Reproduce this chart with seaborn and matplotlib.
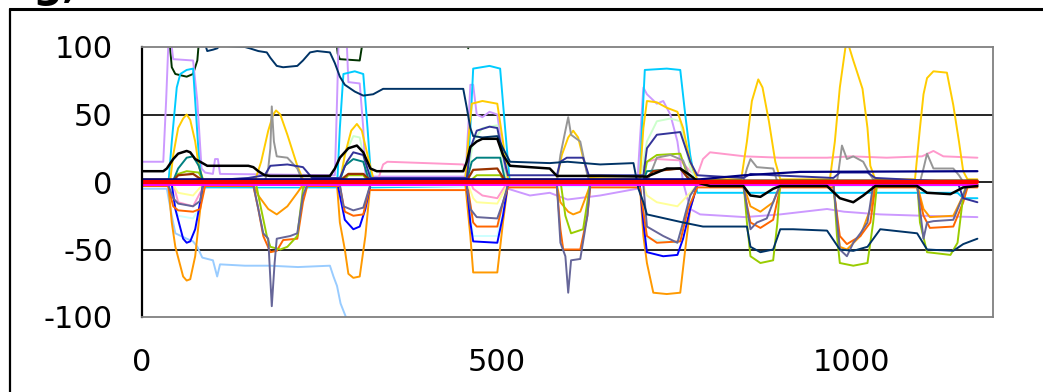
import matplotlib
matplotlib.use("Agg")
import matplotlib.pyplot as plt
from matplotlib.lines import Line2D
import pandas as pd
import seaborn as sns

# ---------------------------------------------------------------------------
# Data: each trace as (sample positions, values)
# ---------------------------------------------------------------------------
x_ticks = [0, 500, 1000]
y_ticks = [-100, -50, 0, 50, 100]

dkgreen_x = [0, 37, 42, 47, 63, 72, 78, 82, 272, 276, 279, 307, 310, 312, 455, 460, 463, 1178]
dkgreen_y = [115, 115, 85, 80, 78, 80, 90, 115, 115, 95, 91, 90, 100, 115, 115, 99, 115, 115]

dknavy_x = [0, 85, 89, 92, 100, 106, 110, 145, 152, 164, 176, 181, 190, 199, 219, 227, 237, 247, 265,
            272, 279, 286, 300, 312, 326, 340, 453, 458, 463, 467, 480, 501, 509, 519, 575, 600, 646,
            693, 700, 707, 712, 763, 791, 853, 858, 872, 890, 900, 918, 966, 984, 1003, 1023, 1041,
            1093, 1107, 1144, 1158, 1178]
dknavy_y = [115, 115, 102, 97, 98, 99, 101, 100, 99, 97, 96, 92, 86, 85, 86, 90, 96, 97, 96,
            88, 78, 72, 67, 64, 65, 69, 69, 55, 40, 34, 33, 34, 25, 15, 14, 15, 13,
            14, -5, -15, -24, -30, -33, -33, -48, -52, -50, -35, -35, -36, -50, -51, -48, -35,
            -38, -50, -51, -46, -42]

lavender_x = [0, 30, 34, 37, 42, 44, 72, 78, 84, 89, 100, 103, 107, 110, 272, 275, 277, 289, 291, 307,
              312, 315, 456, 460, 463, 467, 472, 480, 490, 501, 509, 516, 547, 575, 600, 646, 698, 702,
              707, 712, 726, 735, 745, 755, 763, 773, 787, 850, 900, 966, 990, 1041, 1100, 1178]
lavender_y = [15, 15, 60, 100, 100, 91, 90, 60, 10, 7, 6, 17, 17, 6, 5, 60, 100, 100, 74, 73,
              40, 4, 4, 40, 72, 72, 50, 48, 52, 50, 20, -5, -10, -8, -13, -10, -5, 30,
              70, 65, 58, 60, 50, 30, 0, -20, -24, -26, -24, -20, -22, -24, -25, -26]

sky_x = [0, 37, 42, 49, 54, 63, 72, 75, 80, 85, 275, 279, 284, 300, 312, 318, 324, 458, 463, 467, 490,
         505, 512, 519, 702, 705, 709, 740, 759, 766, 773, 783, 1150, 1158, 1178]
sky_y = [-3, -3, 30, 70, 80, 83, 84, 60, 20, -4, -4, 40, 80, 82, 80, 40, -4, -3, 40, 84, 86,
         84, 40, -3, -3, 40, 83, 84, 83, 50, 20, -8, -8, -12, -12]

gold_x = [0, 40, 44, 51, 58, 63, 68, 75, 80, 86, 160, 168, 178, 185, 189, 195, 205, 219, 227,
          280, 286, 295, 303, 310, 318, 326, 456, 460, 465, 480, 501, 509, 516, 585, 592, 601, 608,
          615, 622, 630, 702, 707, 712, 726, 740, 755, 763, 773, 783, 845, 853, 860, 869, 875, 884,
          893, 900, 970, 977, 984, 992, 996, 1003, 1008, 1016, 1023, 1027, 1034, 1090, 1097, 1102,
          1107, 1116, 1135, 1144, 1152, 1158, 1164, 1178]
gold_y = [2, 2, 20, 40, 47, 50, 46, 30, 12, 2, 2, 15, 38, 50, 53, 50, 35, 12, 2,
          2, 20, 38, 43, 38, 20, 3, 2, 30, 58, 60, 58, 30, 2, 2, 20, 33, 38,
          33, 18, 3, 2, 40, 60, 59, 55, 52, 40, 15, 2, 2, 30, 60, 76, 70, 45,
          15, 2, 2, 30, 70, 100, 102, 90, 82, 69, 40, 12, 2, 2, 40, 65,
          77, 82, 81, 57, 30, 8, 2, 2]

orange_x = [0, 37, 42, 47, 58, 63, 68, 75, 80, 86, 157, 164, 178, 190, 205, 219, 227, 275, 279, 286,
            291, 298, 307, 315, 322, 456, 463, 467, 501, 509, 516, 585, 590, 601, 608, 618, 628, 632,
            702, 707, 712, 721, 740, 759, 766, 773, 783, 848, 858, 872, 890, 900, 975, 984, 994, 1013,
            1027, 1034, 1093, 1102, 1111, 1144, 1158, 1164, 1178]
orange_y = [-2, -2, -30, -48, -70, -73, -72, -55, -30, -2, -2, -10, -20, -24, -18, -8, -2, -2, -30, -50,
            -68, -71, -70, -40, -2, -2, -40, -67, -67, -30, -2, -2, -15, -22, -24, -22, -8, -2,
            -2, -40, -60, -82, -83, -82, -50, -20, -2, -2, -18, -22, -15, -2, -2, -48, -50, -40,
            -20, -2, -2, -20, -26, -25, -10, -2, -2]

orangered_x = [0, 37, 44, 51, 72, 82, 89, 157, 164, 171, 181, 190, 199, 219, 227, 233, 279, 286, 298,
               312, 320, 331, 453, 460, 467, 472, 501, 509, 516, 585, 590, 594, 618, 628, 632, 702, 712,
               726, 759, 770, 783, 848, 858, 872, 890, 900, 975, 984, 994, 1013, 1027, 1034, 1093,
               1102, 1111, 1144, 1158, 1164, 1178]
orangered_y = [-3, -3, -18, -21, -22, -20, -3, -3, -20, -40, -52, -51, -43, -42, -15, -3, -3, -22, -25,
               -24, -6, -6, -6, -6, -30, -33, -33, -15, -4, -4, -35, -50, -50, -25, -4, -4, -40,
               -45, -44, -20, -4, -4, -30, -34, -28, -4, -4, -40, -46, -40, -30, -4, -4,
               -25, -34, -33, -15, -4, -4]

blue_x = [0, 42, 47, 51, 58, 63, 68, 75, 82, 86, 276, 279, 286, 298, 307, 315, 322, 458, 463, 467,
          501, 509, 516, 702, 707, 712, 735, 755, 763, 773, 783, 1178]
blue_y = [-2, -2, -20, -28, -42, -45, -44, -35, -15, -2, -2, -10, -28, -35, -33, -20, -2, -2, -30, -44,
          -45, -25, -2, -2, -30, -52, -55, -54, -42, -20, -2, -2]

bluegray_x = [0, 37, 44, 51, 72, 82, 86, 157, 164, 171, 178, 183, 187, 190, 209, 219, 227, 233, 279,
              284, 298, 312, 322, 458, 463, 472, 501, 509, 516, 585, 590, 597, 601, 605, 618, 628, 632,
              707, 712, 735, 755, 763, 773, 783, 848, 858, 867, 881, 890, 900, 975, 984, 994, 1003,
              1013, 1023, 1031, 1093, 1097, 1102, 1107, 1116, 1144, 1158, 1164, 1178]
bluegray_y = [-2, -2, -12, -16, -18, -14, -2, -2, -20, -38, -42, -92, -60, -42, -40, -38, -10, -2, -2,
              -18, -21, -19, -2, -2, -20, -26, -27, -15, -2, -2, -45, -55, -82, -58, -57, -25, -2,
              -2, -33, -40, -45, -30, -10, -2, -2, -35, -30, -27, -15, -2, -2, -50, -55, -45,
              -38, -30, -2, -2, -20, -42, -30, -29, -28, -10, -2, -2]

lime_x = [0, 44, 51, 63, 80, 86, 160, 166, 176, 181, 195, 205, 219, 227, 233, 284, 291, 312, 318, 463,
          472, 505, 512, 590, 597, 605, 622, 628, 632, 707, 712, 726, 759, 766, 775, 848, 853, 858,
          872, 890, 896, 900, 975, 980, 984, 1003, 1023, 1031, 1037, 1093, 1097, 1107, 1140, 1150,
          1158, 1164, 1178]
lime_y = [1, 1, 6, 8, 7, 1, 1, -15, -40, -48, -50, -48, -40, -5, 1, 1, 5, 5, 1, 1,
          5, 5, 1, 1, -25, -38, -35, -15, 1, 1, 15, 20, 21, 10, 1, 1, -30, -55,
          -60, -58, -30, 1, 1, -40, -60, -62, -60, -30, 1, 1, -30, -52, -54, -45,
          -10, 1, 1]

gray_x = [0, 173, 178, 181, 183, 186, 190, 205, 219, 227, 585, 590, 597, 601, 605, 618, 628, 632, 712,
          720, 726, 745, 763, 775, 848, 853, 858, 867, 890, 896, 980, 984, 987, 994, 1003, 1017, 1027,
          1034, 1097, 1102, 1107, 1116, 1144, 1152, 1158, 1178]
gray_y = [0, 0, 10, 25, 56, 30, 19, 18, 10, 0, 0, 20, 38, 48, 35, 30, 5, 0, 0,
          10, 18, 20, 16, 0, 0, 10, 17, 11, 10, 0, 0, 15, 27, 17, 19, 15, 5,
          0, 0, 10, 21, 10, 10, 5, 0, 0]

rose_x = [0, 44, 51, 72, 82, 89, 331, 340, 346, 400, 453, 460, 467, 480, 501, 512, 522, 698, 705, 712,
          726, 759, 773, 783, 791, 801, 850, 900, 966, 1000, 1050, 1100, 1116, 1130, 1178]
rose_y = [-1, -1, -15, -18, -8, -1, -1, 13, 15, 14, 13, 5, -5, -10, -12, -3, -1, -1, 10, 15,
          17, 16, 8, 5, 17, 22, 19, 18, 18, 19, 18, 19, 23, 19, 18]

black_x = [0, 30, 35, 44, 51, 63, 68, 75, 82, 92, 150, 157, 164, 173, 181, 265, 272, 279, 291, 303, 312,
           322, 331, 453, 458, 463, 472, 480, 501, 509, 519, 547, 575, 585, 646, 712, 726, 740, 759,
           773, 787, 801, 848, 858, 872, 890, 900, 966, 984, 1003, 1017, 1034, 1093, 1107, 1140, 1158,
           1178]
black_y = [8, 8, 10, 17, 21, 23, 22, 17, 15, 12, 12, 11, 8, 5, 4.5, 4.5, 10, 18, 25, 27, 22,
           10, 8, 8, 15, 26, 30, 32, 32, 20, 12, 11, 10, 4.5, 4.5, 4, 7, 10, 10,
           5, -1, -3, -3, -10, -11, -5, -3, -3, -12, -15, -10, -3, -3, -8, -9, -4,
           -3]

indigo_x = [0, 85, 120, 150, 173, 181, 205, 227, 240, 279, 289, 298, 312, 322, 458, 463, 472, 490, 501,
            509, 516, 585, 590, 599, 622, 630, 707, 712, 726, 759, 773, 783, 848, 858, 890, 975, 984,
            1023, 1034, 1150, 1158, 1178]
indigo_y = [1, 1, 2, 3, 5, 12, 13, 11, 3, 3, 15, 22, 20, 3, 3, 25, 38, 41, 40,
            20, 5, 5, 15, 18, 18, 5, 5, 25, 35, 37, 15, 5, 3, 6, 5, 3, 7,
            7, 3, 0, -12, -15]

teal_x = [0, 44, 51, 63, 72, 80, 86, 279, 286, 298, 312, 320, 458, 465, 472, 505, 512, 707, 712, 759,
          773, 1178]
teal_y = [1, 1, 10, 18, 19, 12, 1, 1, 12, 17, 15, 1, 1, 15, 18, 18, 1, 1, 8, 10,
          1, 1]

ltgreen_x = [0, 279, 286, 298, 307, 318, 322, 458, 467, 480, 501, 509, 516, 702, 712, 726, 745, 759, 773,
             783, 1178]
ltgreen_y = [1, 1, 20, 34, 33, 5, 1, 1, 30, 40, 42, 10, 1, 1, 30, 45, 47, 45, 10,
             1, 1]

ltblue_x = [0, 35, 42, 47, 63, 72, 78, 85, 100, 106, 110, 145, 180, 220, 265, 270, 275, 280, 289, 295,
            1178]
ltblue_y = [-5, -5, -25, -38, -42, -44, -48, -56, -58, -70, -61, -62, -62, -63, -62, -70, -77, -90, -102,
            -115, -115]

ltyellow_x = [0, 44, 51, 72, 82, 89, 460, 467, 472, 501, 509, 516, 707, 712, 726, 755, 773, 783, 1178]
ltyellow_y = [-2, -2, -8, -10, -4, -2, -2, -12, -15, -16, -8, -2, -2, -10, -15, -18, -8, -2, -2]

ltcyan_x = [0, 42, 47, 51, 72, 80, 86, 458, 463, 467, 501, 509, 516, 702, 707, 712, 755, 763, 773,
            783, 1178]
ltcyan_y = [-3, -3, -18, -25, -27, -20, -3, -3, -25, -40, -40, -20, -3, -3, -30, -42, -45, -30, -10,
            -3, -3]

brown_x = [0, 44, 51, 72, 86, 279, 291, 312, 322, 458, 467, 501, 512, 707, 721, 759, 773, 1178]
brown_y = [1, 1, 5, 6, 1, 1, 6, 6, 1, 1, 9, 10, 1, 1, 8, 10, 1, 1]

navy_x = [0, 787, 850, 928, 1178]
navy_y = [2, 2, 5, 7.5, 8]

magenta_x = [0, 1178]
magenta_y = [-2, -2]

red_x = [0, 1178]
red_y = [0, 0]

# (x, y, colour, line width) in drawing order
traces = [
    (dkgreen_x, dkgreen_y, "#003300", 1.4),
    (ltblue_x, ltblue_y, "#99CCFF", 1.4),
    (lavender_x, lavender_y, "#CC99FF", 1.4),
    (sky_x, sky_y, "#00CCFF", 1.4),
    (rose_x, rose_y, "#FF99CC", 1.4),
    (ltyellow_x, ltyellow_y, "#FFFF99", 1.4),
    (ltcyan_x, ltcyan_y, "#CCFFFF", 1.4),
    (ltgreen_x, ltgreen_y, "#CCFFCC", 1.4),
    (gold_x, gold_y, "#FFCC00", 1.4),
    (orange_x, orange_y, "#FF9900", 1.4),
    (blue_x, blue_y, "#0000FF", 1.4),
    (orangered_x, orangered_y, "#FF6600", 1.4),
    (lime_x, lime_y, "#99CC00", 1.4),
    (gray_x, gray_y, "#969696", 1.4),
    (teal_x, teal_y, "#008080", 1.4),
    (brown_x, brown_y, "#993300", 1.6),
    (bluegray_x, bluegray_y, "#666699", 1.4),
    (indigo_x, indigo_y, "#333399", 1.4),
    (dknavy_x, dknavy_y, "#003366", 1.4),
    (navy_x, navy_y, "#000080", 1.6),
    (magenta_x, magenta_y, "#FF00FF", 1.4),
    (black_x, black_y, "#000000", 1.8),
    (red_x, red_y, "#FF0000", 3.0),
]

sns.set_style("white")
plt.rcParams["font.family"] = ["DejaVu Sans"]

fig = plt.figure(figsize=(10.43, 3.92), dpi=100)
ax = fig.add_axes([142 / 1043, 75 / 392, 851 / 1043, 270 / 392])

for xs, ys, col, lw in traces:
    df = pd.DataFrame({"x": xs, "y": ys})
    sns.lineplot(data=df, x="x", y="y", color=col, linewidth=lw,
                 estimator=None, sort=False, ax=ax, legend=False)

ax.set_xlim(0, 1200)
ax.set_ylim(-100, 100)
ax.set_xticks(x_ticks)
ax.set_yticks(y_ticks)
ax.set_xticklabels([str(v) for v in x_ticks])
ax.set_yticklabels([str(v) for v in y_ticks])
ax.set_xlabel("")
ax.set_ylabel("")
ax.tick_params(axis="both", length=0, labelsize=22, colors="black")
ax.tick_params(axis="y", pad=21)
ax.tick_params(axis="x", pad=22)

# horizontal gridlines at the inner major ticks
for v in y_ticks[1:-1]:
    ax.axhline(v, color="black", lw=1.2, zorder=0.5)

for side in ("top", "right", "bottom"):
    ax.spines[side].set_color("#808080")
    ax.spines[side].set_linewidth(1.3)
ax.spines["left"].set_color("black")
ax.spines["left"].set_linewidth(1.6)

# outer frame of the chart area
fig.add_artist(Line2D([10 / 1043, 1.0], [1 - 8.5 / 392, 1 - 8.5 / 392],
                      color="black", lw=2.2, transform=fig.transFigure))
fig.add_artist(Line2D([10 / 1043, 10 / 1043], [0, 1 - 8.5 / 392],
                      color="black", lw=1.6, transform=fig.transFigure))

# heading above the frame
fig.text(32 / 1043, 1 + 3 / 392, "g,", fontsize=30, fontweight="bold",
         ha="left", va="baseline", color="black")

fig.savefig("out.png", dpi=100)
